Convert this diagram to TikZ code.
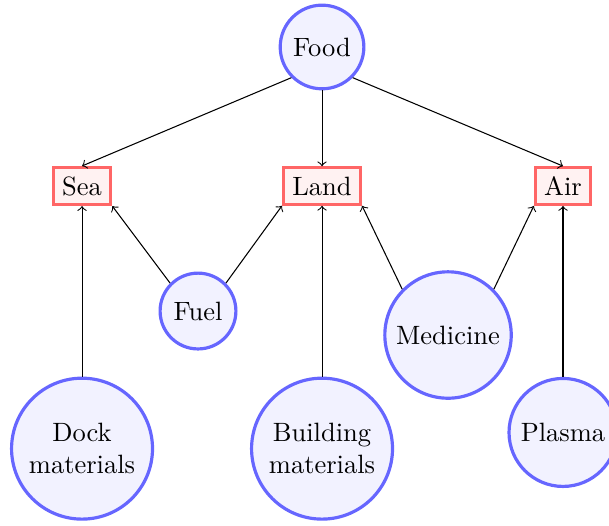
\documentclass[tikz,border=0pt]{standalone}
\usetikzlibrary{positioning}

\begin{document}
\begin{tikzpicture}[->,
  supply/.style={circle, draw=blue!60, fill=blue!5, very thick, align=center},
  areabox/.style={rectangle, draw=red!60, fill=red!5, very thick}]
  \useasboundingbox (0,0) rectangle (8.077,-6.963);
  \node[supply] (food) at (4.271,-0.623) {Food};

  \node[areabox] (sea)  at (1.088,-2.467) {Sea};
  \node[areabox] (land) at (4.271,-2.467) {Land};
  \node[areabox] (air)  at (7.467,-2.467) {Air};

  \node[supply] (fuel)     at (2.626,-4.125) {Fuel};
  \node[supply] (medicine) at (5.942,-4.443) {Medicine};
  \node[supply] (dock)     at (1.088,-5.950) {Dock\\materials};
  \node[supply] (building) at (4.271,-5.950) {Building\\materials};
  \node[supply] (plasma)   at (7.467,-5.735) {Plasma};

  \draw (food.south west) -- (sea.north);
  \draw (food.south) -- (land.north);
  \draw (food.south east) -- (air.north);
  \draw (fuel.north west) -- (sea.south east);
  \draw (fuel.north east) -- (land.south west);
  \draw (dock.north) -- (sea.south);
  \draw (building.north) -- (land.south);
  \draw (medicine.north west) -- (land.south east);
  \draw (medicine.north east) -- (air.south west);
  \draw (plasma.north) -- (air.south);
\end{tikzpicture}
\end{document}
